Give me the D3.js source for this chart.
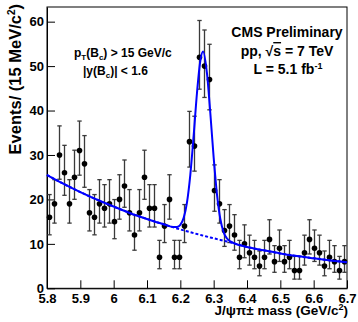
<!DOCTYPE html>
<html lang="en">
<head>
<meta charset="utf-8">
<title>J/psi pi mass spectrum</title>
<script src="https://cdn.jsdelivr.net/npm/d3@7"></script>
<style>
body { margin:0; background:#fff; }
text { font-family:"Liberation Sans", Arial, sans-serif; font-weight:bold; fill:#000; }
.tick text { font-size:13px; }
</style>
</head>
<body>
<div id="chart"></div>
<script>
// histogram: 60 bins of 15 MeV between 5.8 and 6.7 GeV
var massLow = 5.8, binWidth = 0.015;
var counts = [16, 19, 30, 26, 19, 25, 31, 28, 17, 16,
              19, 18, 19, 15, 20, 23, 17, 12, 17, 25,
              18, 18, 7, 14, 20, 7, 7, 14, 33, 32,
              52, 50, 47, 22, 19, 13, 14, 12, 7, 10,
              8, 7, 5, 7, 11, 6, 9, 6, 7, 4,
              4, 8, 11, 9, 8, 5, 7, 6, 4, 6];

var xTicks = [5.8, 5.9, 6.0, 6.1, 6.2, 6.3, 6.4, 6.5, 6.6, 6.7];
var yTicks = [0, 10, 20, 30, 40, 50, 60];

// fit curve (signal + background) and background only
var fitMass  = [5.80, 5.85, 5.90, 5.95, 6.00, 6.05, 6.10, 6.15, 6.18, 6.19,
                6.20, 6.21, 6.22, 6.23, 6.24, 6.25, 6.26, 6.268, 6.28, 6.29,
                6.30, 6.31, 6.32, 6.33, 6.34, 6.35, 6.36, 6.40, 6.45, 6.50,
                6.55, 6.60, 6.65, 6.70];
var fitTotal = [25.5, 23.5, 21.65, 19.95, 18.4, 16.9, 15.6, 14.4, 13.77, 13.79,
                14.27, 15.84, 19.35, 25.6, 34.4, 44.0, 51.2, 53.3, 48.3, 39.4,
                29.4, 21.1, 15.6, 12.6, 11.2, 10.56, 10.18, 9.3, 8.55, 7.85,
                7.25, 6.75, 6.28, 5.85];
var fitBkg   = [25.5, 23.5, 21.65, 19.95, 18.4, 16.9, 15.6, 14.4, 13.7, 13.47,
                13.25, 13.04, 12.83, 12.62, 12.41, 12.21, 12.02, 11.86, 11.63, 11.44,
                11.25, 11.07, 10.89, 10.71, 10.54, 10.37, 10.15, 9.3, 8.55, 7.85,
                7.25, 6.75, 6.28, 5.85];

var width = 358, height = 322;
var margin = {top: 7, right: 11, bottom: 33.7, left: 47};

var x = d3.scaleLinear().domain([5.8, 6.7]).range([margin.left, width - margin.right]);
var y = d3.scaleLinear().domain([0, 63.3]).range([height - margin.bottom, margin.top]);

var svg = d3.select("#chart").append("svg")
    .attr("width", width)
    .attr("height", height);

// points with poisson (asymmetric) errors
var points = counts.map(function(n, i) {
    return {
        m: massLow + (i + 0.5) * binWidth,
        n: n,
        lo: n - Math.sqrt(n - 0.25),
        hi: n + 1 + Math.sqrt(n + 0.75)
    };
});

var xMinor = d3.range(0, 46).filter(function(i) { return i % 5 !== 0; })
    .map(function(i) { return 5.8 + i * 0.02; });
var yMinor = d3.range(0, 64, 2).filter(function(v) { return v % 10 !== 0; });

// axes, ticks pointing inside the frame
var gx = svg.append("g").attr("transform", "translate(0," + (height - margin.bottom) + ")");
gx.call(d3.axisBottom(x).tickValues(xMinor).tickSizeInner(-4).tickSizeOuter(0).tickFormat(""));
gx.call(d3.axisBottom(x).tickValues(xTicks).tickSizeInner(-8).tickSizeOuter(0).tickPadding(5)
    .tickFormat(d3.format("~g")));

var gy = svg.append("g").attr("transform", "translate(" + margin.left + ",0)");
gy.call(d3.axisLeft(y).tickValues(yMinor).tickSizeInner(-4).tickSizeOuter(0).tickFormat(""));
gy.call(d3.axisLeft(y).tickValues(yTicks).tickSizeInner(-8).tickSizeOuter(0).tickPadding(3));

svg.selectAll(".tick line").attr("stroke", "#000");
svg.selectAll(".domain").attr("stroke", "#000");

svg.append("rect")
    .attr("x", margin.left)
    .attr("y", margin.top)
    .attr("width", width - margin.left - margin.right)
    .attr("height", height - margin.top - margin.bottom)
    .attr("fill", "none")
    .attr("stroke", "#000")
    .attr("stroke-width", 1);

// error bars
var bars = svg.append("g")
    .attr("stroke", "#3a3a3a")
    .attr("stroke-width", 1.3);
bars.selectAll("line.eb")
    .data(points)
    .enter()
    .append("line")
        .attr("class", "eb")
        .attr("x1", function(d) { return x(d.m); })
        .attr("x2", function(d) { return x(d.m); })
        .attr("y1", function(d) { return y(d.lo); })
        .attr("y2", function(d) { return y(d.hi); });
bars.selectAll("line.capHi")
    .data(points)
    .enter()
    .append("line")
        .attr("class", "capHi")
        .attr("x1", function(d) { return x(d.m) - 2.2; })
        .attr("x2", function(d) { return x(d.m) + 2.2; })
        .attr("y1", function(d) { return y(d.hi); })
        .attr("y2", function(d) { return y(d.hi); });
bars.selectAll("line.capLo")
    .data(points)
    .enter()
    .append("line")
        .attr("class", "capLo")
        .attr("x1", function(d) { return x(d.m) - 2.2; })
        .attr("x2", function(d) { return x(d.m) + 2.2; })
        .attr("y1", function(d) { return y(d.lo); })
        .attr("y2", function(d) { return y(d.lo); });

svg.append("g").selectAll("circle")
    .data(points)
    .enter()
    .append("circle")
        .attr("cx", function(d) { return x(d.m); })
        .attr("cy", function(d) { return y(d.n); })
        .attr("r", 2.8)
        .attr("fill", "#000");

// fit curves
var line = d3.line()
    .x(function(d) { return x(d[0]); })
    .y(function(d) { return y(d[1]); })
    .curve(d3.curveMonotoneX);

svg.append("path")
    .datum(d3.zip(fitMass, fitBkg))
    .attr("d", line)
    .attr("fill", "none")
    .attr("stroke", "#0000ff")
    .attr("stroke-width", 2)
    .attr("stroke-dasharray", "3,2");

svg.append("path")
    .datum(d3.zip(fitMass, fitTotal))
    .attr("d", line)
    .attr("fill", "none")
    .attr("stroke", "#0000ff")
    .attr("stroke-width", 2);

// axis titles
var yt = svg.append("text")
    .attr("transform", "translate(20.5,4) rotate(-90)")
    .attr("text-anchor", "end")
    .style("font-size", "16.5px")
    .text("Events/ (15 MeV/c");
yt.append("tspan").attr("dy", -6).style("font-size", "10px").text("2");
yt.append("tspan").attr("dy", 6).text(")");

var xt = svg.append("text")
    .attr("x", 348)
    .attr("y", 315)
    .attr("text-anchor", "end")
    .style("font-size", "13.5px")
    .text("J/\u03c8\u03c0\u00b1 mass (GeV/c");
xt.append("tspan").attr("dy", -5).style("font-size", "9px").text("2");
xt.append("tspan").attr("dy", 5).text(")");

// labels
svg.append("text")
    .attr("x", 287).attr("y", 37)
    .attr("text-anchor", "middle")
    .style("font-size", "14px")
    .text("CMS Preliminary");

var l2 = svg.append("text")
    .attr("x", 287).attr("y", 56)
    .attr("text-anchor", "middle")
    .style("font-size", "14px")
    .text("pp, \u221a");
l2.append("tspan").style("text-decoration", "overline").text("s");
l2.append("tspan").text(" = 7 TeV");

var l3 = svg.append("text")
    .attr("x", 288).attr("y", 74)
    .attr("text-anchor", "middle")
    .style("font-size", "14px")
    .text("L = 5.1 fb");
l3.append("tspan").attr("dy", -5).style("font-size", "9px").text("-1");

var c1 = svg.append("text")
    .attr("x", 74).attr("y", 57)
    .style("font-size", "12px")
    .text("p");
c1.append("tspan").attr("dy", 3).style("font-size", "8px").text("T");
c1.append("tspan").attr("dy", -3).text("(B");
c1.append("tspan").attr("dy", 3).style("font-size", "8px").text("c");
c1.append("tspan").attr("dy", -3).text(") > 15 GeV/c");

var c2 = svg.append("text")
    .attr("x", 83).attr("y", 75)
    .style("font-size", "12px")
    .text("|y(B");
c2.append("tspan").attr("dy", 3).style("font-size", "8px").text("c");
c2.append("tspan").attr("dy", -3).text(")| < 1.6");
</script>
</body>
</html>
